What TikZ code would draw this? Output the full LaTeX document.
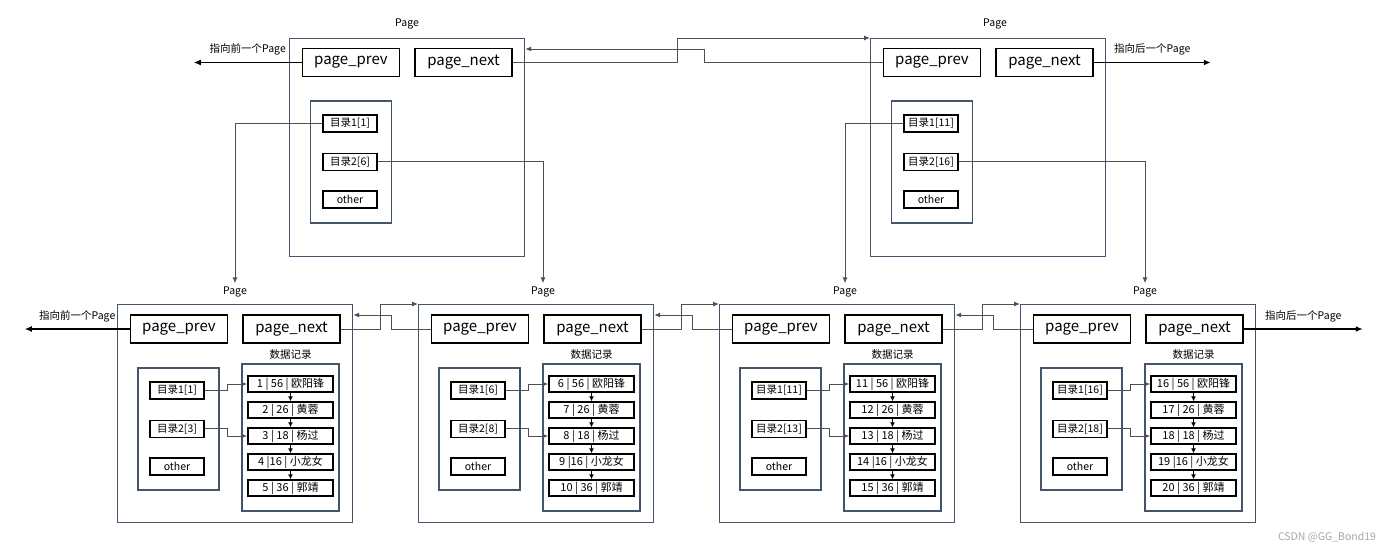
\documentclass[tikz,border=0pt]{standalone}
\usepackage{fontspec}
\setmainfont{Noto Sans CJK SC}
\usetikzlibrary{arrows.meta,positioning}
\definecolor{slate}{RGB}{68,84,106}
\definecolor{linkgray}{RGB}{80,80,80}

\begin{document}
\begin{tikzpicture}[x=1pt,y=-1pt,
  font=\fontsize{10.5}{12}\selectfont,
  frame/.style={draw=slate,line width=1.2pt,minimum width=235pt,minimum height=218pt,inner sep=0pt,anchor=north west},
  grp/.style={draw=slate,line width=1.2pt,inner sep=0pt},
  ptr/.style={draw,line width=1.5pt,minimum width=97pt,minimum height=28pt,inner sep=0pt,font=\fontsize{15}{17}\selectfont},
  dir/.style={draw,line width=1.4pt,minimum width=54pt,minimum height=17pt,inner sep=0pt},
  rec/.style={draw,line width=1.4pt,minimum width=85pt,minimum height=16pt,inner sep=0pt,font=\fontsize{11}{12}\selectfont},
  link/.style={draw=linkgray,line width=1pt,-{Latex[length=6pt,width=5pt]}},
  chain/.style={line width=1pt,-{Latex[length=5pt,width=5pt]}},
  outptr/.style={line width=1.6pt,-{Latex[length=7pt,width=6pt]}}
]
\useasboundingbox (0,0) rectangle (1400,550);

% upper level: the two index pages
\foreach \n/\x/\lx/\ia/\ib in {tl/289/118/1/6, tr/870/125/11/16}{
  \begin{scope}[shift={(\x,38)}]
    \node[frame] (\n) at (0,0) {};
    \node (\n-lbl) at (\lx,-14) {Page};
    \node[ptr] (\n-prev) at (62,24.5) {page\_prev};
    \node[ptr,right=14pt of \n-prev] (\n-next) {page\_next};
    \node[grp,minimum width=81pt,minimum height=122pt] (\n-idx) at (62,124) {};
    \node[dir] (\n-d1) at (61,85.5) {目录1[\ia]};
    \node[dir,below=20pt of \n-d1] (\n-d2) {目录2[\ib]};
    \node[dir,below=19pt of \n-d2] (\n-d3) {other};
  \end{scope}
}

% lower level: the four data pages
\foreach \i/\x/\lx/\ia/\ib in {1/117/118/1/3, 2/418/125/6/8, 3/719/126/11/13, 4/1020/125/16/18}{
  \pgfmathtruncatemacro\rb{\ia+1}
  \pgfmathtruncatemacro\rd{\ib+1}
  \pgfmathtruncatemacro\re{\ib+2}
  \begin{scope}[shift={(\x,304)}]
    \node[frame] (b\i) at (0,0) {};
    \node (b\i-lbl) at (\lx,-12) {Page};
    \node[ptr] (b\i-prev) at (62,25) {page\_prev};
    \node[ptr,right=14pt of b\i-prev] (b\i-next) {page\_next};
    \node[grp,minimum width=81pt,minimum height=122pt] (b\i-idx) at (61.5,125) {};
    \node[dir] (b\i-d1) at (60,86.5) {目录1[\ia]};
    \node[dir,below=20pt of b\i-d1] (b\i-d2) {目录2[\ib]};
    \node[dir,below=19pt of b\i-d2] (b\i-d3) {other};
    \node[grp,minimum width=97pt,minimum height=147pt] (b\i-data) at (173.5,133.5) {};
    \node[above=1pt of b\i-data] (b\i-tag) {数据记录};
    \node[rec] (b\i-r1) at (173.5,80) {{\ia} | 56 | 欧阳锋};
    \node[rec,below=8.6pt of b\i-r1] (b\i-r2) {{\rb} | 26 | 黄蓉};
    \node[rec,below=8.6pt of b\i-r2] (b\i-r3) {{\ib} | 18 | 杨过};
    \node[rec,below=8.6pt of b\i-r3] (b\i-r4) {{\rd} |16 | 小龙女};
    \node[rec,below=8.6pt of b\i-r4] (b\i-r5) {{\re} | 36 | 郭靖};
  \end{scope}
  \draw[chain] (b\i-r1) -- (b\i-r2);
  \draw[chain] (b\i-r2) -- (b\i-r3);
  \draw[chain] (b\i-r3) -- (b\i-r4);
  \draw[chain] (b\i-r4) -- (b\i-r5);
  \draw[link] (b\i-d1.east) -- ++(23,0) |- (b\i-r1.west);
  \draw[link] (b\i-d2.east) -- ++(23,0) |- (b\i-r3.west);
}

% sibling pointers
\draw[link] (tl-next.east) -- ++(165,0) |- (tr.north west);
\draw[link] (tr-prev.west) -- ++(-178,0) |- ([yshift=-11pt]tl.north east);
\foreach \i/\j in {1/2,2/3,3/4}{
  \draw[link] (b\i-next.east) -- ++(40,0) |- (b\j.north west);
  \draw[link] (b\j-prev.west) -- ++(-39,0) |- ([yshift=-11pt]b\i.north east);
}

% index entries down to the data pages
\draw[link] (tl-d1.west) -| (b1-lbl.north);
\draw[link] (tl-d2.east) -| (b2-lbl.north);
\draw[link] (tr-d1.west) -| (b3-lbl.north);
\draw[link] (tr-d2.east) -| (b4-lbl.north);

% outer ends
\draw[outptr] (tl-prev.west) -- ++(-108,0) node[midway,above=3pt] (tl-out) {指向前一个Page};
\draw[outptr] (tr-next.east) -- ++(117,0) node[midway,above=3pt] (tr-out) {指向后一个Page};
\draw[outptr] (b1-prev.west) -- ++(-105,0) node[midway,above=3pt] (b1-out) {指向前一个Page};
\draw[outptr] (b4-next.east) -- ++(119,0) node[midway,above=3pt] (b4-out) {指向后一个Page};

\node[text=black!35,font=\fontsize{10.5}{12}\selectfont] (mark) at (1327,537) {CSDN @GG\_Bond19};
\end{tikzpicture}
\end{document}
